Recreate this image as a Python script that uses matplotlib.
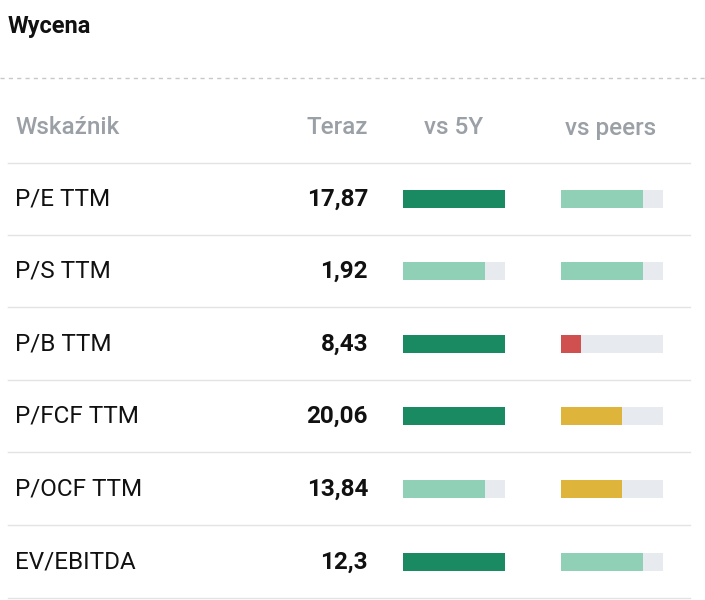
import matplotlib.pyplot as plt

metrics = ["P/E TTM", "P/S TTM", "P/B TTM", "P/FCF TTM", "P/OCF TTM", "EV/EBITDA"]
teraz = ["17,87", "1,92", "8,43", "20,06", "13,84", "12,3"]
vs5y = [1.0, 0.8, 1.0, 1.0, 0.8, 1.0]
vs5y_level = ["dark", "light", "dark", "dark", "light", "dark"]
peers = [0.8, 0.8, 0.2, 0.6, 0.6, 0.8]
peers_level = ["light", "light", "red", "yellow", "yellow", "light"]
headers = ["Wskaźnik", "Teraz", "vs 5Y", "vs peers"]

colors = {"dark": "#1a8a62", "light": "#8fd0b6", "red": "#d05050", "yellow": "#dfb43a"}
bg = "#e7eaef"

fig = plt.figure(figsize=(7.05, 6.0), dpi=100)
ax = fig.add_axes([0, 0, 1, 1])
ax.set_xlim(0, 705); ax.set_ylim(600, 0); ax.axis("off")

ax.text(8, 27, "Wycena", fontsize=17, fontweight="bold", va="center", ha="left", color="#111", family="Roboto")
ax.plot([0, 705], [78, 78], ls=(0, (3, 3)), color="#c8c8c8", lw=1)
hc = "#9aa0a6"
hk = dict(fontsize=17.5, color=hc, va="center", family="Roboto", fontweight="medium")
ax.text(15, 128, headers[0], ha="left", **hk)
ax.text(368, 128, headers[1], ha="right", **hk)
ax.text(454, 128, headers[2], ha="center", **hk)
ax.text(611, 128, headers[3], ha="center", **hk)

ys = [199, 271, 344, 416, 489, 562]
for y in [163] + [y + 36 for y in ys]:
    ax.plot([8, 690], [y, y], color="#e3e3e3", lw=1)

W = 102
ax.barh(ys, [W] * 6, left=403, height=18, color=bg)
ax.barh(ys, [v * W for v in vs5y], left=403, height=18, color=[colors[c] for c in vs5y_level])
ax.barh(ys, [W] * 6, left=561, height=18, color=bg)
ax.barh(ys, [v * W for v in peers], left=561, height=18, color=[colors[c] for c in peers_level])

for y, m, t in zip(ys, metrics, teraz):
    ax.text(15, y, m, fontsize=17.5, color="#111", va="center", ha="left", family="Roboto")
    ax.text(368, y, t, fontsize=17.5, color="#111", va="center", ha="right", fontweight="bold", family="Roboto")

fig.savefig("out.png", dpi=100)
